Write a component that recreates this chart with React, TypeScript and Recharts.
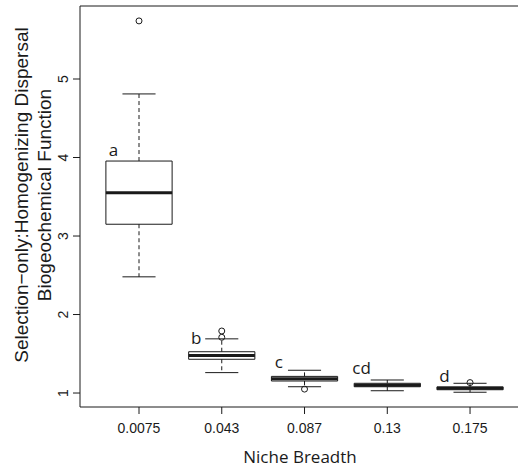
import React from 'react';
import {
  ComposedChart,
  XAxis,
  YAxis,
  Scatter,
  ReferenceArea,
  ReferenceLine,
} from 'recharts';

const categories = ['0.0075', '0.043', '0.087', '0.13', '0.175'];
const q1 = [3.15, 1.43, 1.153, 1.08, 1.042];
const medians = [3.55, 1.478, 1.182, 1.1, 1.06];
const q3 = [3.955, 1.526, 1.212, 1.124, 1.078];
const whiskerLow = [2.48, 1.26, 1.08, 1.029, 1.01];
const whiskerHigh = [4.81, 1.69, 1.29, 1.166, 1.124];
const outlierGroup = [1, 2, 2, 3, 5];
const outlierValue = [5.74, 1.79, 1.71, 1.05, 1.133];
const letters = ['a', 'b', 'c', 'cd', 'd'];
const letterY = [4.02, 1.624, 1.315, 1.24, 1.144];
const yTicks = [1, 2, 3, 4, 5];

const CHART_W = 524;
const X_DOMAIN: [number, number] = [0.287, 5.652];
const Y_DOMAIN: [number, number] = [0.822, 5.93];
const BOX_HALF = 0.4;
const CAP_HALF = 0.2;
const LABEL_OFFSET = -0.31;
const INK = '#1a1a1a';

const outlierData = outlierGroup.map((g, i) => ({ x: g, y: outlierValue[i] }));
const letterData = letters.map((l, i) => ({ x: i + 1 + LABEL_OFFSET, y: letterY[i], letter: l }));

const YTick = (props: any) => {
  const { x, y, payload } = props;
  return (
    <text
      x={x}
      y={y}
      transform={`rotate(-90 ${x} ${y})`}
      textAnchor="middle"
      fontSize={14}
      fontFamily="'Liberation Sans', Arial, sans-serif"
      fill={INK}
    >
      {payload.value}
    </text>
  );
};

const YTitle = () => (
  <g fontFamily="'Liberation Sans', Arial, sans-serif" fontSize={19} fill={INK}>
    <text x={28} y={195} transform="rotate(-90 28 195)" textAnchor="middle">
      Selection−only:Homogenizing Dispersal
    </text>
    <text x={50.5} y={195} transform="rotate(-90 50.5 195)" textAnchor="middle">
      Biogeochemical Function
    </text>
  </g>
);

const XTitle = () => (
  <text
    x={300}
    y={462.5}
    textAnchor="middle"
    fontSize={17}
    fontFamily="'Open Sans', sans-serif"
    fill={INK}
  >
    Niche Breadth
  </text>
);

export default function App() {
  return (
    <div
      style={{
        position: 'absolute',
        left: 0,
        top: 0,
        width: 518,
        height: 469,
        overflow: 'hidden',
        background: '#fff',
      }}
    >
      <ComposedChart width={CHART_W} height={469} margin={{ top: 6, right: 0, bottom: 0, left: 0 }}>
        <XAxis
          type="number"
          dataKey="x"
          domain={X_DOMAIN}
          allowDataOverflow
          ticks={[1, 2, 3, 4, 5]}
          tickFormatter={(v: number) => categories[Math.round(v) - 1] ?? ''}
          height={62}
          tickSize={7}
          tickMargin={9}
          stroke={INK}
          tick={{ fontSize: 14, fill: INK, fontFamily: "'Liberation Sans', Arial, sans-serif" }}
          label={{ content: () => <XTitle /> }}
        />
        <YAxis
          type="number"
          dataKey="y"
          domain={Y_DOMAIN}
          allowDataOverflow
          ticks={yTicks}
          width={80}
          tickSize={7}
          tickMargin={5}
          stroke={INK}
          tick={<YTick />}
          label={{ content: () => <YTitle /> }}
        />
        <ReferenceLine y={Y_DOMAIN[1]} stroke={INK} strokeWidth={1} />
        {categories.map((c, i) => {
          const cx = i + 1;
          return (
            <React.Fragment key={c}>
              <ReferenceLine
                segment={[{ x: cx, y: q3[i] }, { x: cx, y: whiskerHigh[i] }]}
                stroke={INK}
                strokeDasharray="4 3"
              />
              <ReferenceLine
                segment={[{ x: cx, y: q1[i] }, { x: cx, y: whiskerLow[i] }]}
                stroke={INK}
                strokeDasharray="4 3"
              />
              <ReferenceLine
                segment={[{ x: cx - CAP_HALF, y: whiskerHigh[i] }, { x: cx + CAP_HALF, y: whiskerHigh[i] }]}
                stroke={INK}
              />
              <ReferenceLine
                segment={[{ x: cx - CAP_HALF, y: whiskerLow[i] }, { x: cx + CAP_HALF, y: whiskerLow[i] }]}
                stroke={INK}
              />
              <ReferenceArea
                x1={cx - BOX_HALF}
                x2={cx + BOX_HALF}
                y1={q1[i]}
                y2={q3[i]}
                fill="none"
                fillOpacity={0}
                stroke={INK}
                strokeWidth={1}
              />
              <ReferenceLine
                segment={[{ x: cx - BOX_HALF, y: medians[i] }, { x: cx + BOX_HALF, y: medians[i] }]}
                stroke={INK}
                strokeWidth={3}
              />
            </React.Fragment>
          );
        })}
        <Scatter
          data={outlierData}
          dataKey="y"
          isAnimationActive={false}
          shape={(p: any) => <circle cx={p.cx} cy={p.cy} r={3} fill="none" stroke={INK} strokeWidth={1} />}
        />
        <Scatter
          data={letterData}
          dataKey="y"
          isAnimationActive={false}
          shape={(p: any) => (
            <text
              x={p.cx}
              y={p.cy}
              textAnchor="middle"
              fontSize={17}
              fontFamily="'Open Sans', sans-serif"
              fill={INK}
            >
              {p.payload.letter}
            </text>
          )}
        />
      </ComposedChart>
    </div>
  );
}
